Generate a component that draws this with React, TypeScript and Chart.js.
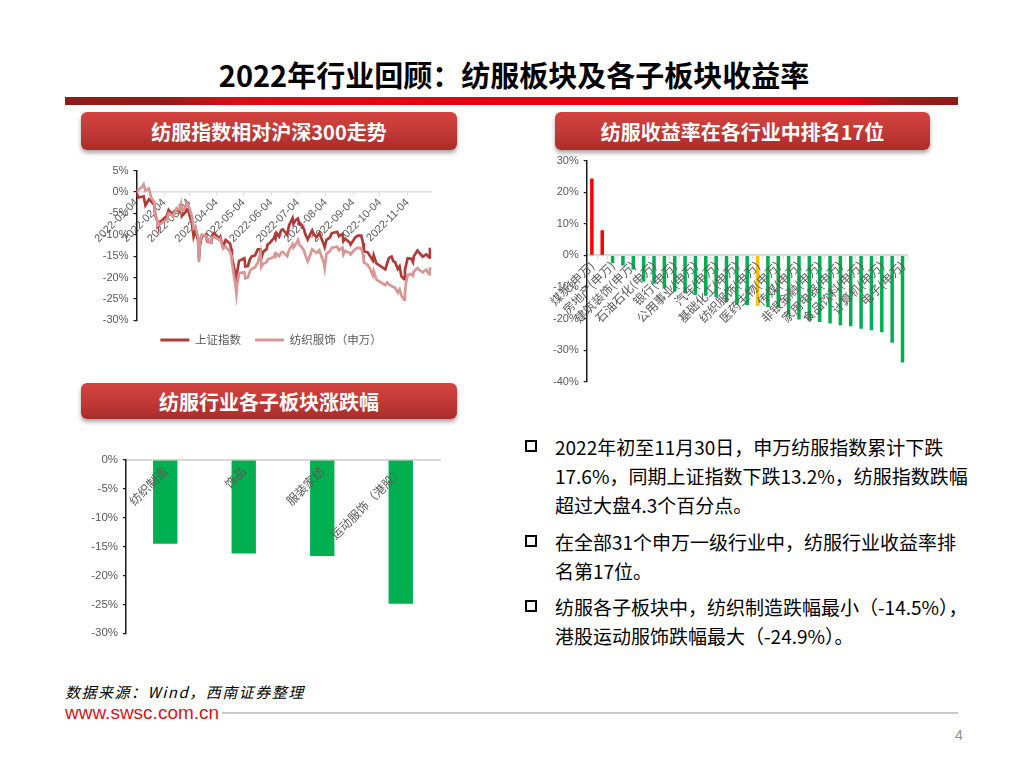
import React, { useEffect, useRef } from 'react';
import { Chart, registerables } from 'chart.js';

Chart.register(...registerables);

const LATIN = '"Liberation Sans", "Noto Sans CJK SC", sans-serif';
const CJK = '"Noto Sans CJK SC", "Liberation Sans", sans-serif';
const TICK_COLOR = '#595959';

// ---------- Chart 1: 纺服指数相对沪深300走势 ----------
const lineDates = [
  '2022-01-04', '2022-01-06', '2022-01-10', '2022-01-12', '2022-01-14', '2022-01-18', '2022-01-20', '2022-01-24',
  '2022-01-25', '2022-01-27', '2022-01-28', '2022-02-07', '2022-02-09', '2022-02-11', '2022-02-14', '2022-02-16',
  '2022-02-18', '2022-02-22', '2022-02-23', '2022-02-24', '2022-02-28', '2022-03-01', '2022-03-03', '2022-03-04',
  '2022-03-07', '2022-03-09', '2022-03-11', '2022-03-14', '2022-03-15', '2022-03-16', '2022-03-18', '2022-03-23',
  '2022-03-25', '2022-03-29', '2022-03-30', '2022-04-01', '2022-04-07', '2022-04-08', '2022-04-11', '2022-04-14',
  '2022-04-19', '2022-04-20', '2022-04-21', '2022-04-25', '2022-04-26', '2022-04-27', '2022-04-29', '2022-05-05',
  '2022-05-06', '2022-05-09', '2022-05-11', '2022-05-13', '2022-05-17', '2022-05-20', '2022-05-23', '2022-05-24',
  '2022-05-26', '2022-05-30', '2022-05-31', '2022-06-02', '2022-06-07', '2022-06-08', '2022-06-09', '2022-06-10',
  '2022-06-13', '2022-06-15', '2022-06-17', '2022-06-22', '2022-06-24', '2022-06-28', '2022-06-29', '2022-07-01',
  '2022-07-04', '2022-07-06', '2022-07-08', '2022-07-11', '2022-07-12', '2022-07-15', '2022-07-18', '2022-07-20',
  '2022-07-22', '2022-07-25', '2022-07-28', '2022-08-02', '2022-08-03', '2022-08-05', '2022-08-09', '2022-08-11',
  '2022-08-17', '2022-08-19', '2022-08-23', '2022-08-24', '2022-08-26', '2022-08-31', '2022-09-01', '2022-09-06',
  '2022-09-09', '2022-09-13', '2022-09-15', '2022-09-16', '2022-09-20', '2022-09-23', '2022-09-26', '2022-09-27',
  '2022-09-30', '2022-10-10', '2022-10-12', '2022-10-14', '2022-10-17', '2022-10-19', '2022-10-21', '2022-10-24',
  '2022-10-26', '2022-10-28', '2022-10-31', '2022-11-01', '2022-11-02', '2022-11-04', '2022-11-08', '2022-11-10',
  '2022-11-11', '2022-11-15', '2022-11-17', '2022-11-21', '2022-11-23', '2022-11-25', '2022-11-28', '2022-11-29',
  '2022-11-30',
];

const shanghaiIndex = [
  0.0, -1.3, -1.1, -1.0, -3.1, -1.7, -2.1, -3.0,
  -5.5, -6.6, -7.5, -5.6, -4.2, -4.7, -5.6, -4.6,
  -3.9, -4.8, -3.9, -5.6, -4.7, -4.0, -4.2, -5.1,
  -7.2, -10.4, -8.9, -11.3, -15.6, -12.7, -10.5, -9.9,
  -11.6, -11.8, -10.1, -9.6, -10.9, -10.5, -12.8, -11.2,
  -12.1, -13.2, -15.2, -19.4, -20.5, -18.6, -16.1, -15.5,
  -17.4, -17.3, -15.8, -15.1, -14.8, -13.4, -13.4, -15.5,
  -14.0, -13.3, -12.3, -12.0, -10.8, -10.2, -10.8, -9.6,
  -10.4, -9.0, -8.7, -10.0, -7.8, -6.1, -7.4, -6.7,
  -6.2, -7.6, -7.6, -8.8, -9.7, -11.1, -9.8, -9.0,
  -10.0, -10.5, -9.6, -12.3, -12.9, -11.2, -10.6, -9.6,
  -9.3, -10.3, -9.8, -11.5, -10.9, -11.8, -12.3, -10.7,
  -10.2, -10.2, -11.9, -13.9, -14.1, -15.0, -16.0, -14.8,
  -16.7, -18.1, -16.7, -15.4, -15.1, -16.2, -16.4, -18.0,
  -17.4, -19.7, -20.4, -18.3, -17.3, -15.5, -15.6, -16.4,
  -15.0, -13.7, -14.2, -15.1, -14.8, -14.6, -15.3, -13.3,
  -13.2,
];

const textileIndex = [
  0.0, 0.5, 1.2, 1.8, 0.3, 0.8, -1.0, -2.5,
  -5.0, -6.5, -7.8, -6.5, -5.0, -5.2, -5.8, -4.8,
  -3.8, -4.2, -3.0, -4.5, -3.5, -2.6, -3.0, -3.6,
  -5.5, -8.5, -8.0, -10.5, -16.4, -12.0, -10.0, -10.2,
  -11.5, -11.8, -10.6, -10.4, -11.2, -11.0, -13.2, -12.8,
  -14.0, -14.8, -16.5, -22.0, -23.8, -21.5, -19.0, -18.8,
  -20.2, -20.0, -18.6, -18.0, -17.6, -16.5, -14.2, -17.5,
  -16.8, -16.4, -15.8, -15.6, -15.2, -14.6, -15.0, -14.4,
  -15.0, -14.2, -14.0, -15.0, -13.6, -12.2, -13.0, -12.4,
  -11.2, -12.5, -12.8, -13.8, -14.6, -16.2, -14.6, -13.4,
  -13.8, -14.2, -13.6, -16.5, -17.8, -14.5, -13.8, -13.0,
  -12.8, -13.6, -13.0, -14.6, -13.8, -14.2, -14.6, -13.4,
  -13.0, -13.2, -14.6, -16.5, -17.0, -18.0, -19.5, -18.5,
  -20.5, -21.8, -21.2, -21.6, -22.0, -22.2, -22.4, -23.5,
  -22.8, -24.2, -25.2, -23.6, -21.5, -19.4, -19.2, -19.6,
  -18.6, -17.8, -18.2, -18.8, -18.4, -18.2, -19.2, -18.0,
  -17.6,
];

const lineSeriesNames = ['上证指数', '纺织服饰（申万）'];
const lineTickDates = [
  '2022-01-04', '2022-02-04', '2022-03-04', '2022-04-04', '2022-05-04', '2022-06-04',
  '2022-07-04', '2022-08-04', '2022-09-04', '2022-10-04', '2022-11-04',
];
const lineEndDate = '2022-11-30';

// ---------- Chart 2: 纺服收益率在各行业中排名17位 ----------
const industries = [
  '煤炭(申万)', '综合(申万)', '房地产(申万)', '交通运输(申万)', '建筑装饰(申万)', '商贸零售(申万)',
  '石油石化(申万)', '社会服务(申万)', '银行(申万)', '农林牧渔(申万)', '公用事业(申万)', '钢铁(申万)',
  '汽车(申万)', '建筑材料(申万)', '基础化工(申万)', '环保(申万)', '纺织服饰(申万)', '美容护理(申万)',
  '医药生物(申万)', '机械设备(申万)', '传媒(申万)', '轻工制造(申万)', '非银金融(申万)', '有色金属(申万)',
  '家用电器(申万)', '通信(申万)', '食品饮料(申万)', '国防军工(申万)', '计算机(申万)', '电力设备(申万)',
  '电子(申万)',
];
const industryReturns = [
  24.4, 8.0, -2.5, -3.2, -4.5, -8.3,
  -9.0, -10.5, -11.4, -12.0, -12.5, -12.8,
  -13.2, -14.8, -15.6, -15.8, -16.0, -16.3,
  -16.6, -18.9, -20.3, -20.6, -21.1, -21.6,
  -22.1, -22.4, -23.2, -23.7, -24.3, -27.7,
  -33.9,
];
const highlightIndustry = '纺织服饰(申万)';

// ---------- Chart 3: 纺服行业各子板块涨跌幅 ----------
const subSectors = ['纺织制造', '饰品', '服装家纺', '运动服饰（港股）'];
const subReturns = [-14.5, -16.2, -16.6, -24.9];

// ---------- helpers ----------
const dayOffset = (d: string) => {
  const [y, m, dd] = d.split('-').map(Number);
  return (Date.UTC(y, m - 1, dd) - Date.UTC(2022, 0, 4)) / 86400000;
};
const pct = (v: any) => `${v}%`;

function fixY(width: number) {
  return (s: any) => {
    s.width = width;
    s.paddingTop = 0;
    s.paddingBottom = 0;
  };
}
function fixX(height: number) {
  return (s: any) => {
    s.height = height;
    s.paddingLeft = 0;
    s.paddingRight = 0;
  };
}

const legendShift = {
  id: 'legendShift',
  afterLayout(chart: any, _args: any, opts: any) {
    if (chart.legend && opts && opts.dx) {
      chart.legend.left += opts.dx;
      chart.legend.right += opts.dx;
    }
  },
};

function ChartBox(props: { left: number; top: number; width: number; height: number; make: () => any }) {
  const ref = useRef<HTMLCanvasElement | null>(null);
  useEffect(() => {
    if (!ref.current) return;
    const chart = new Chart(ref.current, props.make());
    return () => chart.destroy();
  }, []);
  return (
    <div style={{ position: 'absolute', left: props.left, top: props.top, width: props.width, height: props.height }}>
      <canvas ref={ref} />
    </div>
  );
}

const yAxisCommon = (min: number, max: number, step: number, width: number, fontSize: number) => ({
  min,
  max,
  afterFit: fixY(width),
  border: { display: true, color: '#1a1a1a', width: 1.5 },
  grid: { drawOnChartArea: false, drawTicks: true, tickLength: 3, color: '#1a1a1a', lineWidth: 1.2 },
  ticks: {
    stepSize: step,
    padding: 5,
    color: TICK_COLOR,
    font: { family: LATIN, size: fontSize },
    callback: pct,
  },
});

function makeLineChart() {
  const tickVals = lineTickDates.map(dayOffset);
  return {
    type: 'line',
    data: {
      datasets: [
        {
          label: lineSeriesNames[0],
          data: lineDates.map((d, i) => ({ x: dayOffset(d), y: shanghaiIndex[i] })),
          borderColor: '#B03A38',
          backgroundColor: '#B03A38',
          borderWidth: 2.7,
          pointRadius: 0,
          tension: 0,
          order: 1,
        },
        {
          label: lineSeriesNames[1],
          data: lineDates.map((d, i) => ({ x: dayOffset(d), y: textileIndex[i] })),
          borderColor: '#DA9694',
          backgroundColor: '#DA9694',
          borderWidth: 2.7,
          pointRadius: 0,
          tension: 0,
          order: 0,
        },
      ],
    },
    plugins: [legendShift],
    options: {
      animation: false,
      responsive: true,
      maintainAspectRatio: false,
      layout: { padding: { left: 0, top: 20.7, right: 18.3, bottom: 6.25 } },
      plugins: {
        tooltip: { enabled: false },
        legendShift: { dx: -13 },
        legend: {
          position: 'bottom',
          fullSize: false,
          labels: {
            boxWidth: 29,
            boxHeight: 3,
            padding: 14,
            color: TICK_COLOR,
            font: { family: CJK, size: 11.5 },
            sort: (a: any, b: any) => a.datasetIndex - b.datasetIndex,
            generateLabels: (chart: any) =>
              Chart.defaults.plugins.legend.labels.generateLabels(chart).map((l: any) => ({ ...l, lineWidth: 0 })),
          },
        },
      },
      scales: {
        x: {
          type: 'linear',
          position: { y: 0 },
          min: 0,
          max: dayOffset(lineEndDate) + 1,
          afterFit: fixX(5.95),
          afterBuildTicks: (s: any) => {
            s.ticks = tickVals.map((v) => ({ value: v }));
          },
          border: { display: true, color: '#D9D9D9', width: 1.5 },
          grid: { drawOnChartArea: false, drawTicks: true, tickLength: 3, color: '#D9D9D9' },
          ticks: {
            autoSkip: false,
            minRotation: 45,
            maxRotation: 45,
            padding: 1,
            color: TICK_COLOR,
            font: { family: LATIN, size: 11 },
            callback: (_v: any, i: number) => lineTickDates[i],
          },
        },
        y: yAxisCommon(-30, 5, 5, 56.5, 11),
      },
    },
  };
}

function makeIndustryChart() {
  return {
    type: 'bar',
    data: {
      labels: industries,
      datasets: [
        {
          data: industryReturns,
          backgroundColor: industries.map((n, i) =>
            n === highlightIndustry ? '#FFC000' : industryReturns[i] >= 0 ? '#FF0000' : '#00B050'
          ),
          barPercentage: 0.34,
          categoryPercentage: 1,
        },
      ],
    },
    options: {
      animation: false,
      responsive: true,
      maintainAspectRatio: false,
      layout: { padding: { left: 0, top: 10.7, right: 12.3, bottom: 8.3 } },
      plugins: { legend: { display: false }, tooltip: { enabled: false } },
      scales: {
        x: {
          position: { y: 0 },
          afterFit: fixX(0),
          border: { display: true, color: '#D9D9D9', width: 2 },
          grid: { drawOnChartArea: false, drawTicks: true, tickLength: 3, color: '#D9D9D9' },
          ticks: {
            z: 1,
            autoSkip: false,
            minRotation: 45,
            maxRotation: 45,
            padding: 0,
            color: TICK_COLOR,
            font: { family: CJK, size: 12 },
            callback: (_v: any, i: number) => (i % 2 === 0 ? industries[i] : ''),
          },
        },
        y: yAxisCommon(-40, 30, 10, 46.7, 11),
      },
    },
  };
}

function makeSubChart() {
  return {
    type: 'bar',
    data: {
      labels: subSectors,
      datasets: [
        {
          data: subReturns,
          backgroundColor: '#00B050',
          barPercentage: 0.31,
          categoryPercentage: 1,
        },
      ],
    },
    options: {
      animation: false,
      responsive: true,
      maintainAspectRatio: false,
      layout: { padding: { left: 0, top: 20, right: 10, bottom: 11.7 } },
      plugins: { legend: { display: false }, tooltip: { enabled: false } },
      scales: {
        x: {
          position: { y: 0 },
          afterFit: fixX(0),
          border: { display: true, color: '#D9D9D9', width: 2 },
          grid: { drawOnChartArea: false, drawTicks: false },
          ticks: {
            z: 1,
            autoSkip: false,
            minRotation: 45,
            maxRotation: 45,
            padding: 4,
            color: TICK_COLOR,
            font: { family: CJK, size: 12 },
          },
        },
        y: yAxisCommon(-30, 0, 5, 46, 11.5),
      },
    },
  };
}

function Header(props: { left: number; top: number; width: number; height: number; text: string }) {
  return (
    <div
      style={{
        position: 'absolute',
        left: props.left,
        top: props.top,
        width: props.width,
        height: props.height,
        borderRadius: 6,
        background: 'linear-gradient(180deg, #D4433F 0%, #C13835 55%, #A92C2A 100%)',
        boxShadow: '0 3px 4px rgba(0,0,0,0.35)',
        color: '#fff',
        fontFamily: CJK,
        fontWeight: 700,
        fontSize: 20,
        display: 'flex',
        alignItems: 'center',
        justifyContent: 'center',
        whiteSpace: 'nowrap',
      }}
    >
      {props.text}
    </div>
  );
}

const bulletParas = [
  ['2022年初至11月30日，申万纺服指数累计下跌', '17.6%，同期上证指数下跌13.2%，纺服指数跌幅', '超过大盘4.3个百分点。'],
  ['在全部31个申万一级行业中，纺服行业收益率排', '名第17位。'],
  ['纺服各子板块中，纺织制造跌幅最小（-14.5%），', '港股运动服饰跌幅最大（-24.9%）。'],
];
const paraTops = [432, 527, 592];

export default function App() {
  return (
    <div
      style={{
        position: 'absolute',
        left: 0,
        top: 0,
        width: 1024,
        height: 768,
        background: '#fff',
        overflow: 'hidden',
        fontFamily: CJK,
      }}
    >
      <div
        style={{
          position: 'absolute',
          left: 0,
          top: 56,
          width: 1028,
          textAlign: 'center',
          fontSize: 29,
          lineHeight: '36px',
          fontWeight: 700,
          color: '#000',
          whiteSpace: 'nowrap',
        }}
      >
        2022年行业回顾：纺服板块及各子板块收益率
      </div>
      <div
        style={{
          position: 'absolute',
          left: 65,
          top: 97,
          width: 893,
          height: 8,
          background:
            'linear-gradient(90deg, #8E1B1B 0%, #951B1B 11%, #D90E17 19%, #E60012 50%, #E60012 88%, #A0191B 93%, #8E1B1B 100%)',
        }}
      />
      <Header left={81} top={112} width={376} height={38} text="纺服指数相对沪深300走势" />
      <Header left={555} top={112} width={375} height={38} text="纺服收益率在各行业中排名17位" />
      <Header left={81} top={383} width={376} height={36} text="纺服行业各子板块涨跌幅" />

      <ChartBox left={80} top={150} width={370} height={212} make={makeLineChart} />
      <ChartBox left={540} top={150} width={380} height={240} make={makeIndustryChart} />
      <ChartBox left={80} top={440} width={370} height={205} make={makeSubChart} />

      {bulletParas.map((lines, pi) => (
        <div key={pi} style={{ position: 'absolute', left: 0, top: paraTops[pi] }}>
          <div
            style={{
              position: 'absolute',
              left: 525,
              top: 8,
              width: 8,
              height: 8,
              border: '2.5px solid #000',
            }}
          />
          {lines.map((t, li) => (
            <div
              key={li}
              style={{
                position: 'absolute',
                left: 555,
                top: li * 29,
                fontSize: 19,
                lineHeight: '29px',
                color: '#000',
                whiteSpace: 'nowrap',
              }}
            >
              {t}
            </div>
          ))}
        </div>
      ))}

      <div
        style={{
          position: 'absolute',
          left: 65,
          top: 682,
          fontSize: 15,
          lineHeight: '20px',
          letterSpacing: '1.5px',
          fontStyle: 'italic',
          color: '#000',
          whiteSpace: 'nowrap',
        }}
      >
        数据来源：Wind，西南证券整理
      </div>
      <div
        style={{
          position: 'absolute',
          left: 65,
          top: 703,
          fontSize: 19,
          lineHeight: '20px',
          fontFamily: LATIN,
          color: '#D7141A',
          whiteSpace: 'nowrap',
        }}
      >
        www.swsc.com.cn
      </div>
      <div
        style={{
          position: 'absolute',
          left: 222,
          top: 712,
          width: 736,
          height: 2,
          background: '#C8C8C8',
        }}
      />
      <div
        style={{
          position: 'absolute',
          left: 955,
          top: 725,
          fontSize: 14,
          lineHeight: '20px',
          fontFamily: LATIN,
          color: '#8C8C8C',
        }}
      >
        4
      </div>
    </div>
  );
}
